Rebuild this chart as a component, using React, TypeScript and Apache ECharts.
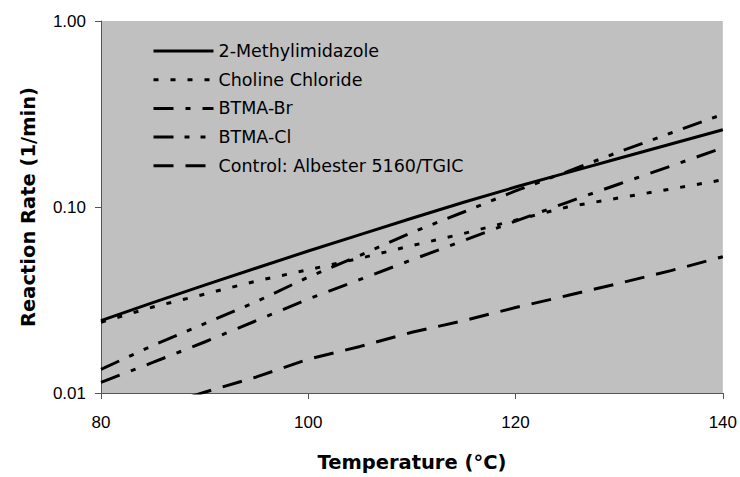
import React, { useEffect, useRef } from "react";
import * as echarts from "echarts";

const temperatures = [80, 85, 90, 95, 100, 105, 110, 115, 120, 125, 130, 135, 140];
const methylimidazole = [0.0245, 0.0306, 0.038, 0.047, 0.058, 0.071, 0.087, 0.106, 0.128, 0.153, 0.183, 0.218, 0.26];
const cholineChloride = [0.024, 0.029, 0.034, 0.04, 0.046, 0.053, 0.062, 0.072, 0.085, 0.1, 0.112, 0.125, 0.14];
const btmaBr = [0.0114, 0.0146, 0.0188, 0.0245, 0.032, 0.0408, 0.052, 0.066, 0.084, 0.106, 0.133, 0.166, 0.208];
const btmaCl = [0.0134, 0.018, 0.0236, 0.031, 0.042, 0.055, 0.073, 0.094, 0.122, 0.155, 0.198, 0.25, 0.315];
const control = [0.0066, 0.0082, 0.0101, 0.0122, 0.0152, 0.0178, 0.0212, 0.0245, 0.0288, 0.0334, 0.0389, 0.0455, 0.054];

const seriesNames = [
  "2-Methylimidazole",
  "Choline Chloride",
  "BTMA-Br",
  "BTMA-Cl",
  "Control: Albester 5160/TGIC",
];
const seriesValues = [methylimidazole, cholineChloride, btmaBr, btmaCl, control];
const dashPatterns: (string | number[])[] = [
  "solid",
  [5, 12],
  [20, 12, 5, 12],
  [20, 11, 5, 11, 5, 11],
  [20, 12],
];

export default function App() {
  const ref = useRef<HTMLDivElement>(null);
  useEffect(() => {
    if (!ref.current) return;
    const chart = echarts.init(ref.current, undefined, { renderer: "svg" });
    const axisColor = "#555";
    chart.setOption({
      animation: false,
      backgroundColor: "#ffffff",
      grid: {
        left: 101,
        right: 16,
        top: 21,
        bottom: 76,
        show: true,
        backgroundColor: "#c0c0c0",
        borderWidth: 0,
      },
      legend: {
        orient: "vertical",
        left: 152,
        top: 41,
        padding: 0,
        itemWidth: 60,
        itemHeight: 14,
        itemGap: 8.7,
        data: seriesNames,
        lineStyle: { width: 3 },
        itemStyle: { color: "rgba(0,0,0,0)", opacity: 0, borderWidth: 0 },
        textStyle: {
          fontFamily: "DejaVu Sans",
          fontSize: 17.5,
          lineHeight: 20,
          color: "#000",
        },
      },
      xAxis: {
        type: "value",
        min: 80,
        max: 140,
        interval: 20,
        name: "Temperature (°C)",
        nameLocation: "middle",
        nameGap: 59,
        nameTextStyle: {
          fontFamily: "DejaVu Sans",
          fontWeight: "bold",
          fontSize: 19.5,
          color: "#000",
        },
        axisLine: { show: true, lineStyle: { color: axisColor, width: 1 } },
        axisTick: { show: true, length: 6, lineStyle: { color: axisColor } },
        splitLine: { show: false },
        axisLabel: {
          margin: 21,
          fontFamily: "Liberation Sans",
          fontSize: 17,
          color: "#000",
        },
      },
      yAxis: {
        type: "log",
        logBase: 10,
        min: 0.01,
        max: 1,
        name: "Reaction Rate (1/min)",
        nameLocation: "middle",
        nameGap: 63,
        nameTextStyle: {
          fontFamily: "DejaVu Sans",
          fontWeight: "bold",
          fontSize: 19.5,
          color: "#000",
        },
        axisLine: { show: true, lineStyle: { color: axisColor, width: 1 } },
        axisTick: { show: true, length: 6, lineStyle: { color: axisColor } },
        minorTick: { show: false },
        splitLine: { show: false },
        axisLabel: {
          margin: 15,
          fontFamily: "Liberation Sans",
          fontSize: 17,
          color: "#000",
          formatter: (v: number) => v.toFixed(2),
        },
      },
      series: seriesNames.map((name, i) => ({
        name,
        type: "line",
        symbol: "none",
        clip: true,
        data: temperatures.map((t, j) => [t, seriesValues[i][j]]),
        lineStyle: { color: "#000", width: 3, type: dashPatterns[i] },
        itemStyle: { color: "#000" },
      })),
    });
    return () => chart.dispose();
  }, []);
  return (
    <div
      ref={ref}
      style={{ position: "fixed", left: 0, top: 0, width: 740, height: 477 }}
    />
  );
}
